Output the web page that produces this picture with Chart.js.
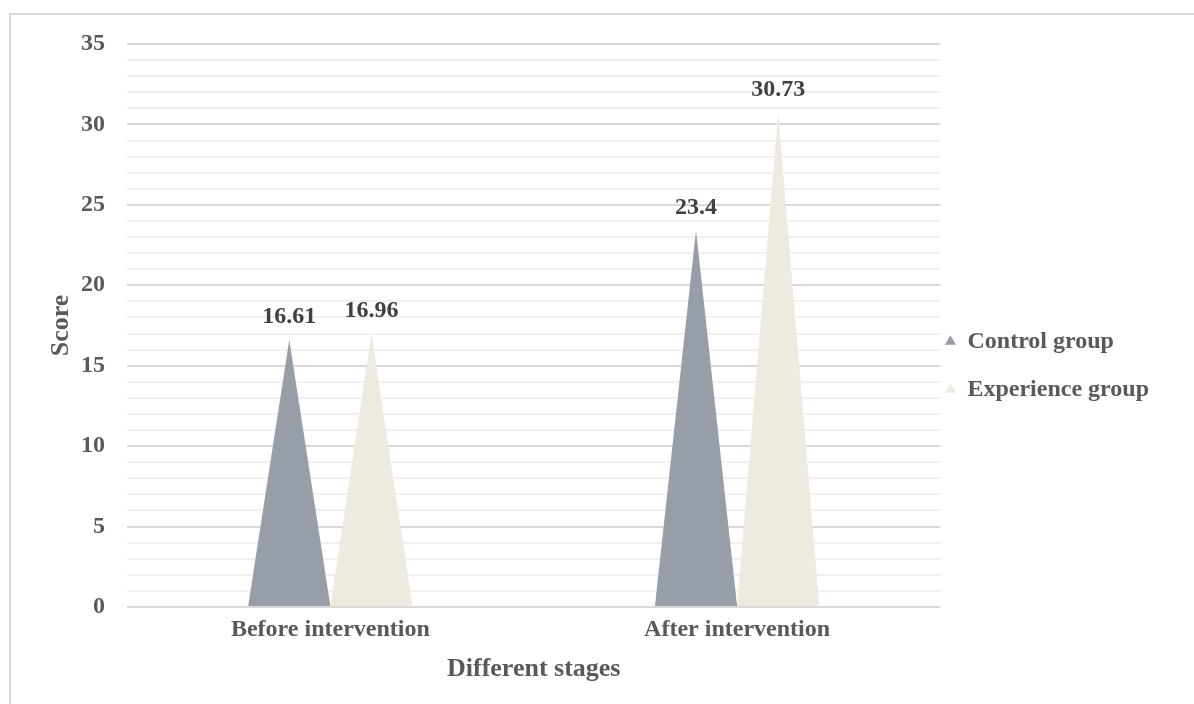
<!DOCTYPE html>
<html>
<head>
<meta charset="utf-8">
<script src="https://cdn.jsdelivr.net/npm/chart.js@4"></script>
<style>
  html, body { margin: 0; padding: 0; background: #fff; overflow: hidden; }
  #frame { position: absolute; left: 9px; top: 13px; width: 1200px; height: 720px; border: 2px solid #d9d9d9; box-sizing: border-box; }
  #wrap { position: absolute; left: 0; top: 0; width: 1194px; height: 704px; }
</style>
</head>
<body>
<div id="frame"></div>
<div id="wrap"><canvas id="chart"></canvas></div>
<script>
// Chart data
const stages = ['Before intervention', 'After intervention'];
const controlScores = [16.61, 23.4];
const experienceScores = [16.96, 30.73];
const seriesNames = ['Control group', 'Experience group'];

const textColor = '#595959';
const fontFamily = '"Liberation Serif", "Times New Roman", serif';

// Draw each bar as a triangle (cone look) and put the value above it
const trianglePlugin = {
  id: 'triangles',
  afterLayout(chart) {
    // nudge the legend closer to the plot
    const lg = chart.legend;
    lg.left -= 19;
    lg.right -= 19;
    lg.top += 1;
    lg.bottom += 1;
  },
  beforeDatasetDraw(chart, args) {
    const ctx = chart.ctx;
    const meta = args.meta;
    const ds = chart.data.datasets[args.index];
    ctx.save();
    ctx.fillStyle = ds.backgroundColor;
    meta.data.forEach(bar => {
      const half = bar.width / 2;
      ctx.beginPath();
      ctx.moveTo(bar.x - half, bar.base);
      ctx.lineTo(bar.x, bar.y);
      ctx.lineTo(bar.x + half, bar.base);
      ctx.closePath();
      ctx.fill();
    });
    ctx.fillStyle = '#404040';
    ctx.font = 'bold 24px ' + fontFamily;
    ctx.textAlign = 'center';
    ctx.textBaseline = 'middle';
    meta.data.forEach((bar, i) => {
      ctx.fillText(String(ds.data[i]), bar.x, bar.y - 23);
    });
    ctx.restore();
    return false;
  }
};

new Chart(document.getElementById('chart'), {
  type: 'bar',
  data: {
    labels: stages,
    datasets: [
      { label: seriesNames[0], data: controlScores, backgroundColor: '#979ea8' },
      { label: seriesNames[1], data: experienceScores, backgroundColor: '#eeeadf' }
    ]
  },
  options: {
    responsive: true,
    maintainAspectRatio: false,
    animation: false,
    layout: { padding: { left: 46, right: 16, top: 44, bottom: 19 } },
    datasets: {
      bar: { categoryPercentage: 0.404, barPercentage: 1 }
    },
    plugins: {
      tooltip: { enabled: false },
      legend: {
        position: 'right',
        labels: {
          usePointStyle: true,
          pointStyle: 'triangle',
          boxWidth: 10,
          boxHeight: 9,
          padding: 24,
          color: textColor,
          font: { family: fontFamily, size: 24, weight: 'bold' }
        }
      }
    },
    scales: {
      x: {
        grid: { display: false },
        border: { display: false },
        ticks: { color: textColor, font: { family: fontFamily, size: 24, weight: 'bold' }, padding: 0 },
        title: {
          display: true,
          text: 'Different stages',
          color: textColor,
          font: { family: fontFamily, size: 26, weight: 'bold' },
          padding: { top: 10, bottom: 0 }
        }
      },
      y: {
        min: 0,
        max: 35,
        border: { display: false },
        afterFit(scale) {
          scale.width = 81;
        },
        grid: {
          color: c => (c.tick.value % 5 === 0 ? '#d9d9d9' : '#f0f0f0'),
          lineWidth: 2,
          drawTicks: false
        },
        ticks: {
          stepSize: 1,
          autoSkip: false,
          padding: 22,
          color: textColor,
          font: { family: fontFamily, size: 24, weight: 'bold' },
          callback: v => (v % 5 === 0 ? v : '')
        },
        title: {
          display: true,
          text: 'Score',
          color: textColor,
          font: { family: fontFamily, size: 26, weight: 'bold' },
          padding: { top: 0, bottom: 4 }
        }
      }
    }
  },
  plugins: [trianglePlugin]
});
</script>
</body>
</html>
